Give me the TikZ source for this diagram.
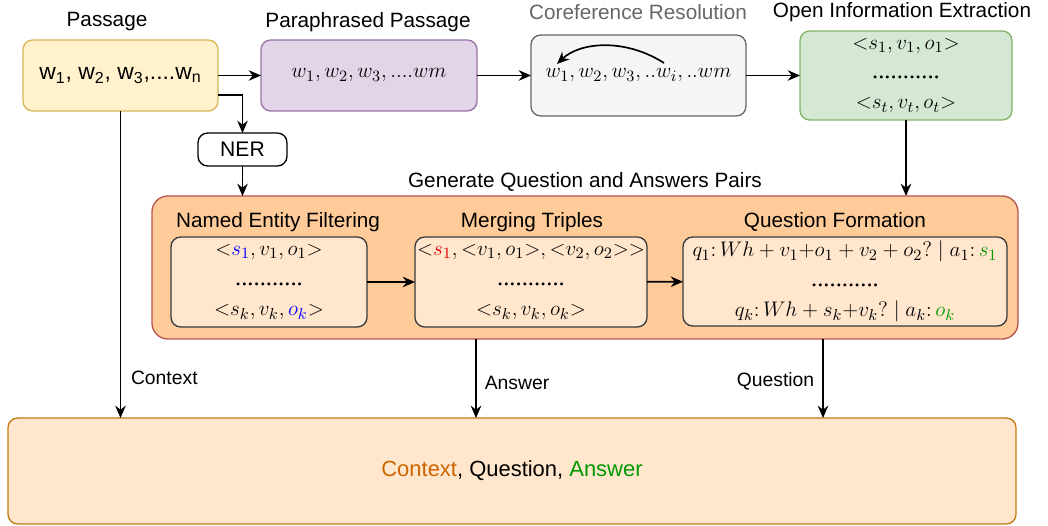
\documentclass[tikz,border=0pt]{standalone}
\usepackage{fontspec}
\setmainfont{Liberation Sans}
\newfontfamily\dotsfont{Liberation Serif}
\usetikzlibrary{arrows.meta}

\definecolor{passfill}{HTML}{FFF2CC}
\definecolor{passline}{HTML}{D6B656}
\definecolor{parafill}{HTML}{E1D5E7}
\definecolor{paraline}{HTML}{9673A6}
\definecolor{corefill}{HTML}{F5F5F5}
\definecolor{coreline}{HTML}{666666}
\definecolor{oiefill}{HTML}{D5E8D4}
\definecolor{oieline}{HTML}{82B366}
\definecolor{genfill}{HTML}{FFCC99}
\definecolor{genline}{HTML}{B85450}
\definecolor{stepfill}{HTML}{FFE6CC}
\definecolor{stepline}{HTML}{36393D}
\definecolor{outline}{HTML}{C47A12}
\definecolor{ctxcol}{HTML}{CC6600}
\definecolor{anscol}{HTML}{009900}

\def\u{0.02cm}
\def\dotrow{{\dotsfont\fontsize{14}{16}\selectfont ...........}}

\begin{document}
\begin{tikzpicture}
[x=\u, y=-\u,
every node/.style={inner sep=0pt, outer sep=0pt},
arr/.style={line width=0.95pt, -{Stealth[length=7pt,width=6pt]}},
box/.style={draw, line width=0.75pt, rounded corners=5.5pt, align=center,
  font=\fontsize{13}{16}\selectfont},
stepbox/.style={box, fill=stepfill, draw=stepline},
title/.style={font=\fontsize{11.8}{14}\selectfont},
edgelabel/.style={font=\fontsize{11}{13}\selectfont}
]
\useasboundingbox (0,0) rectangle (1048,526);

% Top row
\node[box, fill=passfill, draw=passline, minimum width=195*\u, minimum height=71*\u] (pass) at (120.5,75.5)
  {w\textsubscript{1}, w\textsubscript{2}, w\textsubscript{3},....w\textsubscript{n}};
\node[title] at (107,22) {Passage};

\node[box, fill=parafill, draw=paraline, minimum width=216*\u, minimum height=71*\u] (para) at (369,75.5)
  {$w_1, w_2, w_3,....wm$};
\node[title] at (368,22) {Paraphrased Passage};

\node[box, fill=corefill, draw=coreline, minimum width=215*\u, minimum height=81*\u] (coref) at (638.5,75.5)
  {$w_1, w_2, w_3,..w_i,..wm$};
\node[title, text=coreline] at (638,12) {Coreference Resolution};
\coordinate (wi) at (664,63);
\coordinate (wone) at (557,64);

\node[box, fill=oiefill, draw=oieline, minimum width=212*\u, minimum height=89*\u] (oie) at (906,75.5)
  {${<}s_1, v_1, o_1{>}$\\[1pt] \dotrow\\[1pt] ${<}s_t, v_t, o_t{>}$};
\node[title] at (902,12) {Open Information Extraction};

% NER
\node[box, fill=white, draw=black, minimum width=89*\u, minimum height=33*\u,
  font=\fontsize{12}{14}\selectfont] (ner) at (242.5,149.5) {NER};
\coordinate (pn) at (218,95);

% Generate Question and Answers Pairs
\node[box, fill=genfill, draw=genline, rounded corners=9pt, minimum width=866*\u, minimum height=143*\u] (gen) at (585,267.5) {};
\node[title] at (585,182) {Generate Question and Answers Pairs};

\node[stepbox, minimum width=196*\u, minimum height=90*\u] (nef) at (269,282)
  {${<}\textcolor{blue}{s_1}, v_1, o_1{>}$\\[1pt] \dotrow\\[1pt] ${<}s_k, v_k, \textcolor{blue}{o_k}{>}$};
\node[title] at (278,222) {Named Entity Filtering};

\node[stepbox, minimum width=232*\u, minimum height=90*\u] (merge) at (531,282)
  {${<}\textcolor{red!85!black}{s_1}, {<}v_1, o_1{>}, {<}v_2, o_2{>}{>}$\\[1pt] \dotrow\\[1pt] ${<}s_k, v_k, o_k{>}$};
\node[title] at (532,222) {Merging Triples};

\node[stepbox, minimum width=324*\u, minimum height=89*\u] (qf) at (845,281.5)
  {$q_1\colon Wh + v_1{+}o_1 + v_2 + o_2? \mid a_1\colon \textcolor{anscol}{s_1}$\\[1pt] \dotrow\\[1pt] $q_k\colon Wh + s_k{+}v_k? \mid a_k\colon \textcolor{anscol}{o_k}$};
\node[title] at (835,222) {Question Formation};

% Output
\node[box, fill=stepfill, draw=outline, minimum width=1008*\u, minimum height=106*\u,
  font=\fontsize{12.5}{15}\selectfont] (out) at (512,471)
  {\textcolor{ctxcol}{Context}, Question, \textcolor{anscol}{Answer}};
\coordinate (ans) at (476,339);
\coordinate (que) at (823,339);

% Connectors
\draw[arr] (pass) -- (para);
\draw[arr] (para) -- (coref);
\draw[arr] (coref) -- (oie);
\draw[arr] (wi) .. controls (625,38) and (580,42) .. (wone);
\draw[arr] (pn) -| (ner);
\draw[arr] (ner) -- (ner |- gen.north);
\draw[arr] (oie.south) -- (oie.south |- gen.north);
\draw[arr] (nef) -- (merge);
\draw[arr] (merge) -- (qf);
\draw[arr] (pass.south) -- (pass.south |- out.north) node[edgelabel, pos=0.87, anchor=west, xshift=6pt] {Context};
\draw[arr] (ans) -- (ans |- out.north) node[edgelabel, pos=0.55, anchor=west, xshift=5pt] {Answer};
\draw[arr] (que) -- (que |- out.north) node[edgelabel, pos=0.53, anchor=east, xshift=-5pt] {Question};

\end{tikzpicture}
\end{document}
